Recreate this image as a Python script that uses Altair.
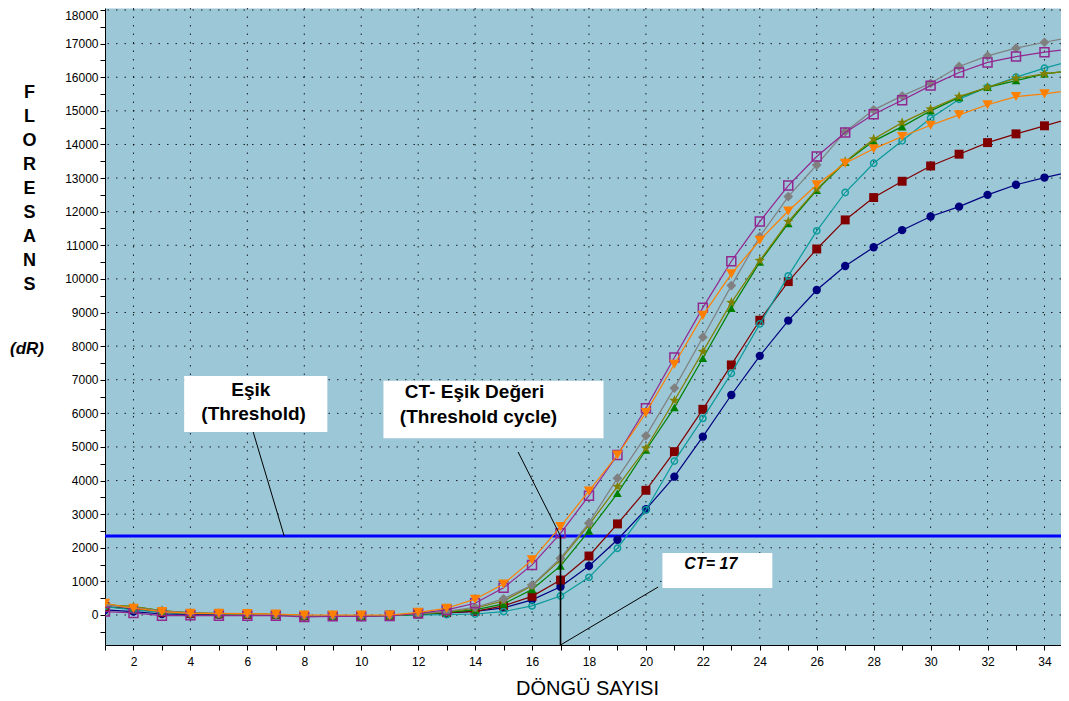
import altair as alt
import pandas as pd

# ---------------- data ----------------
cycles = list(range(1, 36))

navy = [150, 100, 30, 20, 10, 10, 0, -30, -20, -20,
        -10, 20, 60, 110, 210, 450, 840, 1460, 2240, 3145,
        4115, 5305, 6545, 7710, 8760, 9670, 10385, 10940, 11450, 11855,
        12150, 12500, 12800, 13015, 13200]
darkred = [250, 180, 80, 40, 30, 20, 10, -30, -20, -20,
           -10, 30, 70, 110, 270, 555, 1040, 1755, 2710, 3710,
           4860, 6120, 7440, 8770, 9920, 10890, 11755, 12420, 12905, 13360,
           13710, 14055, 14315, 14555, 14800]
teal = [250, 150, 80, 40, 30, 20, 10, -20, -20, -20,
        -20, 0, 10, 30, 100, 270, 565, 1120, 1985, 3125,
        4580, 5850, 7190, 8660, 10090, 11430, 12570, 13440, 14110, 14780,
        15345, 15700, 16000, 16270, 16500]
green = [300, 250, 120, 60, 40, 30, 10, -20, -30, -30,
         -20, 20, 80, 150, 330, 760, 1460, 2500, 3620, 4910,
         6170, 7640, 9130, 10500, 11650, 12640, 13470, 14100, 14530, 15000,
         15400, 15700, 15900, 16100, 16200]
olive = [300, 250, 130, 60, 40, 30, 10, -20, -20, -20,
         -10, 30, 90, 200, 420, 870, 1640, 2680, 3820, 4960,
         6380, 7835, 9295, 10545, 11705, 12670, 13490, 14160, 14650, 15050,
         15425, 15700, 15970, 16100, 16200]
gray = [300, 220, 120, 60, 40, 30, 10, -20, -20, -20,
        -10, 40, 110, 230, 480, 890, 1690, 2740, 4070, 5330,
        6750, 8265, 9800, 11260, 12450, 13390, 14380, 15030, 15445, 15820,
        16320, 16635, 16865, 17040, 17200]
purple = [100, 60, -20, -10, -20, -20, -20, -60, -40, -40,
          -30, 50, 150, 350, 810, 1490, 2430, 3550, 4760, 6150,
          7660, 9145, 10525, 11705, 12776, 13640, 14353, 14900, 15315, 15750,
          16140, 16440, 16615, 16745, 16850]
orange = [350, 200, 100, 50, 50, 40, 30, 0, 0, 0,
          0, 80, 200, 470, 920, 1640, 2630, 3690, 4760, 6020,
          7460, 8915, 10150, 11150, 12020, 12800, 13440, 13870, 14235, 14570,
          14880, 15180, 15425, 15505, 15620]

series_values = [navy, darkred, teal, green, olive, gray, purple, orange]
series_colors = ["#00007F", "#800000", "#0A9A9A", "#008000", "#808000",
                 "#808080", "#92278F", "#FF8000"]
STAR = ("M0,-1L0.24,-0.33L0.95,-0.31L0.38,0.12L0.59,0.81L0,0.4"
        "L-0.59,0.81L-0.38,0.12L-0.95,-0.31L-0.24,-0.33Z")
series_shapes = ["circle", "square", "circle", "triangle-up", STAR,
                 "diamond", "square", "triangle-down"]
series_filled = [True, True, False, True, True, True, False, True]
series_sizes = [70, 80, 40, 75, 120, 95, 80, 110]

threshold = 2350
ct_cycle = 17

x_ticks = list(range(1, 35))
y_ticks = list(range(-500, 18001, 500))
x_grid = list(range(2, 35, 2))
y_grid = list(range(0, 18001, 1000))

# annotation boxes (data units)
box_x1 = [3.78, 10.78, 20.58]
box_x2 = [8.81, 18.51, 24.44]
box_y1 = [7110, 6970, 1845]
box_y2 = [5444, 5257, 803]

# pointer segments (data units)
seg_x1 = [6.205, 15.51, 17.0, 17.0]
seg_y1 = [5444, 4849, 2350, -893]
seg_x2 = [7.294, 17.0, 17.0, 20.43]
seg_y2 = [2350, 2350, -893, 833]
seg_w = [1.0, 1.0, 1.6, 1.0]

label_text = ["Eşik", "(Threshold)", "CT- Eşik Değeri", "(Threshold cycle)"]
label_x = [6.12, 6.22, 13.98, 14.12]
label_y = [6700, 5990, 6620, 5895]

ct_text = ["CT= 17"]
ct_x = [22.28]
ct_y = [1520]

# ---------------- scales / axes ----------------
xs = alt.Scale(domain=[1, 34.58], nice=False, zero=False)
ys = alt.Scale(domain=[-893, 18060], nice=False, zero=False)

x_axis = alt.Axis(
    values=x_ticks, labelExpr="datum.value % 2 == 0 ? datum.label : ''",
    format="d", grid=False, tickSize=5, labelPadding=6, labelFontSize=12,
    labelOverlap=False, labelColor="black", tickColor="black",
    domainColor="black", title="DÖNGÜ SAYISI", titleFontSize=20,
    titleFontWeight="normal", titleColor="black", titleX=482, titleY=49,
    titleAlign="center", titleBaseline="alphabetic")
y_axis = alt.Axis(
    values=y_ticks, labelExpr="datum.value % 1000 == 0 ? datum.label : ''",
    format="d", grid=False, tickSize=5, labelPadding=2, labelFontSize=12,
    labelOverlap=False, labelFlush=4, labelColor="black", tickColor="black",
    domainColor="black", title=list("FLORESANS"), titleAngle=0,
    titleX=-76, titleY=75, titleAlign="center", titleBaseline="top",
    titleFontSize=18, titleFontWeight="bold", titleLineHeight=24,
    titleColor="black")

X = alt.X("x:Q", scale=xs, axis=x_axis)
Y = alt.Y("y:Q", scale=ys, axis=y_axis)

layers = []

# grid
layers.append(alt.Chart(pd.DataFrame({"y": y_grid})).mark_rule(
    color="black", strokeWidth=1, strokeDash=[1.5, 7], opacity=0.85
).encode(y=Y))
layers.append(alt.Chart(pd.DataFrame({"x": x_grid})).mark_rule(
    color="black", strokeWidth=1, strokeDash=[1.5, 7], opacity=0.85
).encode(x=X))

# threshold
layers.append(alt.Chart(pd.DataFrame({"y": [threshold]})).mark_rule(
    color="#0000FF", strokeWidth=3).encode(y=Y))

# series
for vals, col, shp, fil, sz in zip(series_values, series_colors, series_shapes,
                                   series_filled, series_sizes):
    df = pd.DataFrame({"x": cycles, "y": vals})
    base = alt.Chart(df)
    layers.append(base.mark_line(color=col, strokeWidth=1.2, clip=True)
                  .encode(x=X, y=Y))
    layers.append(base.mark_point(shape=shp, filled=fil, color=col, size=sz,
                                  opacity=1, strokeWidth=1.5, clip=True)
                  .encode(x=X, y=Y))

# annotation pointer lines
seg_df = pd.DataFrame({"x": seg_x1, "y": seg_y1, "x2": seg_x2, "y2": seg_y2,
                       "w": seg_w})
layers.append(alt.Chart(seg_df).mark_rule(color="black").encode(
    x=X, y=Y, x2="x2:Q", y2="y2:Q",
    strokeWidth=alt.StrokeWidth("w:Q", scale=None, legend=None)))

# white boxes
box_df = pd.DataFrame({"x": box_x1, "x2": box_x2, "y": box_y1, "y2": box_y2})
layers.append(alt.Chart(box_df).mark_rect(color="white").encode(
    x=X, x2="x2:Q", y=Y, y2="y2:Q"))

# box labels
lab_df = pd.DataFrame({"x": label_x, "y": label_y, "t": label_text})
layers.append(alt.Chart(lab_df).mark_text(
    fontSize=19, fontWeight="bold", color="black", align="center",
    baseline="middle").encode(x=X, y=Y, text="t:N"))

ct_df = pd.DataFrame({"x": ct_x, "y": ct_y, "t": ct_text})
layers.append(alt.Chart(ct_df).mark_text(
    fontSize=16, fontWeight="bold", fontStyle="italic", color="black",
    align="center", baseline="middle").encode(x=X, y=Y, text="t:N"))

# (dR) unit label next to the vertical title
layers.append(alt.Chart(pd.DataFrame({"t": ["(dR)"]})).mark_text(
    fontSize=17, fontWeight="bold", fontStyle="italic", color="black",
    align="center", baseline="middle").encode(
    x=alt.value(-78), y=alt.value(341), text="t:N"))

chart = alt.layer(*layers).properties(
    width=956, height=637, autosize="none",
    padding={"left": 97, "top": 0, "right": 0, "bottom": 56},
    background="white",
).configure(font="Liberation Sans").configure_view(
    fill="#9BC7D7", stroke="transparent")

chart.save("out.html", embed_options={"renderer": "svg", "actions": False})
